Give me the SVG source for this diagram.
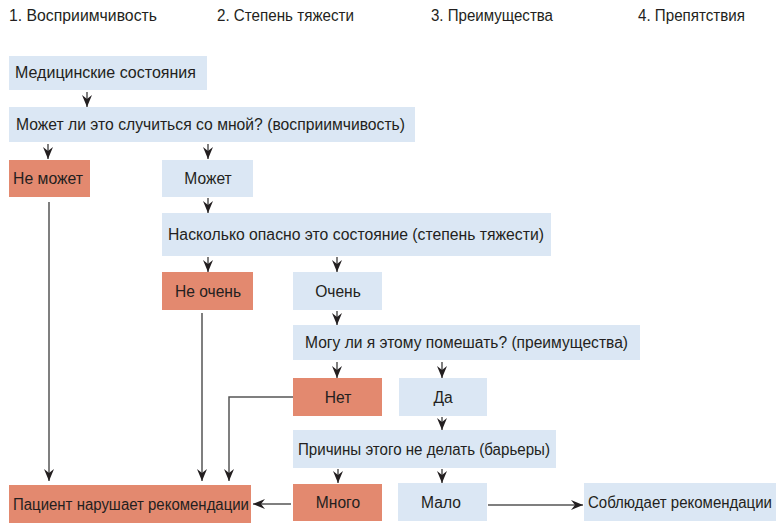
<svg xmlns="http://www.w3.org/2000/svg" width="776" height="523" viewBox="0 0 776 523">
<defs>
<style>
text{font-family:"Liberation Sans","Open Sans",sans-serif;font-size:15.6px;fill:#231f20}
.b{fill:#dbe7f4}
.o{fill:#e3896f}
.c{fill:none;stroke:#555;stroke-width:1.5}
.m{text-anchor:middle}
</style>
<marker id="a" viewBox="0 0 12 10" refX="12" refY="5" markerWidth="12" markerHeight="10" markerUnits="userSpaceOnUse" orient="auto">
<path d="M0,0 L12,5 L0,10 L4,5 Z" fill="#231f20"/>
</marker>
</defs>
<rect width="776" height="523" fill="#fff"/>
<g id="headers">
<text x="9" y="21" textLength="148" lengthAdjust="spacingAndGlyphs">1. Восприимчивость</text>
<text x="217" y="21" textLength="137" lengthAdjust="spacingAndGlyphs">2. Степень тяжести</text>
<text x="431" y="21" textLength="122" lengthAdjust="spacingAndGlyphs">3. Преимущества</text>
<text x="638" y="21" textLength="107" lengthAdjust="spacingAndGlyphs">4. Препятствия</text>
</g>
<g id="n1"><rect class="b" x="9" y="56" width="198" height="34"/><text x="15" y="78" textLength="181" lengthAdjust="spacingAndGlyphs">Медицинские состояния</text></g>
<g id="n2"><rect class="b" x="9" y="107" width="406" height="35"/><text x="16" y="130" textLength="389" lengthAdjust="spacingAndGlyphs">Может ли это случиться со мной? (восприимчивость)</text></g>
<g id="n3"><rect class="o" x="9" y="160" width="81" height="37"/><text x="13" y="184" textLength="70" lengthAdjust="spacingAndGlyphs">Не может</text></g>
<g id="n4"><rect class="b" x="162" y="160" width="91" height="37"/><text class="m" x="208" y="184">Может</text></g>
<g id="n5"><rect class="b" x="162" y="213" width="389" height="43"/><text x="168" y="240" textLength="376" lengthAdjust="spacingAndGlyphs">Насколько опасно это состояние (степень тяжести)</text></g>
<g id="n6"><rect class="o" x="162" y="272" width="91" height="38"/><text class="m" x="208" y="297">Не очень</text></g>
<g id="n7"><rect class="b" x="293" y="272" width="89" height="38"/><text class="m" x="338" y="297">Очень</text></g>
<g id="n8"><rect class="b" x="293" y="325" width="347" height="35"/><text x="305" y="348" textLength="323" lengthAdjust="spacingAndGlyphs">Могу ли я этому помешать? (преимущества)</text></g>
<g id="n9"><rect class="o" x="293" y="378" width="89" height="38"/><text class="m" x="338" y="403">Нет</text></g>
<g id="n10"><rect class="b" x="399" y="378" width="88" height="38"/><text class="m" x="443" y="403">Да</text></g>
<g id="n11"><rect class="b" x="293" y="430" width="263" height="38"/><text x="298" y="455" textLength="252" lengthAdjust="spacingAndGlyphs">Причины этого не делать (барьеры)</text></g>
<g id="n12"><rect class="o" x="9" y="485" width="242" height="38"/><text x="13" y="510" textLength="236" lengthAdjust="spacingAndGlyphs">Пациент нарушает рекомендации</text></g>
<g id="n13"><rect class="o" x="293" y="484" width="89" height="37"/><text class="m" x="338" y="508">Много</text></g>
<g id="n14"><rect class="b" x="398" y="483" width="89" height="38"/><text class="m" x="441" y="508">Мало</text></g>
<g id="n15"><rect class="b" x="584" y="483" width="192" height="38"/><text x="588" y="508" textLength="184" lengthAdjust="spacingAndGlyphs">Соблюдает рекомендации</text></g>
<g id="connectors">
<path class="c" marker-end="url(#a)" d="M87,92 V107"/>
<path class="c" marker-end="url(#a)" d="M48,144 V159"/>
<path class="c" marker-end="url(#a)" d="M208,144 V159"/>
<path class="c" marker-end="url(#a)" d="M208,198 V213"/>
<path class="c" marker-end="url(#a)" d="M208,257 V272"/>
<path class="c" marker-end="url(#a)" d="M337,257 V272"/>
<path class="c" marker-end="url(#a)" d="M337,311 V325"/>
<path class="c" marker-end="url(#a)" d="M337,362 V378"/>
<path class="c" marker-end="url(#a)" d="M442,362 V378"/>
<path class="c" marker-end="url(#a)" d="M442,417 V430"/>
<path class="c" marker-end="url(#a)" d="M338,469 V483"/>
<path class="c" marker-end="url(#a)" d="M442,469 V483"/>
<path class="c" marker-end="url(#a)" d="M49,202 V481"/>
<path class="c" marker-end="url(#a)" d="M202,313 V481"/>
<path class="c" marker-end="url(#a)" d="M293,397 H229 V481"/>
<path class="c" marker-end="url(#a)" d="M291,504 H253"/>
<path class="c" marker-end="url(#a)" d="M488,505 H583"/>
</g>
</svg>
